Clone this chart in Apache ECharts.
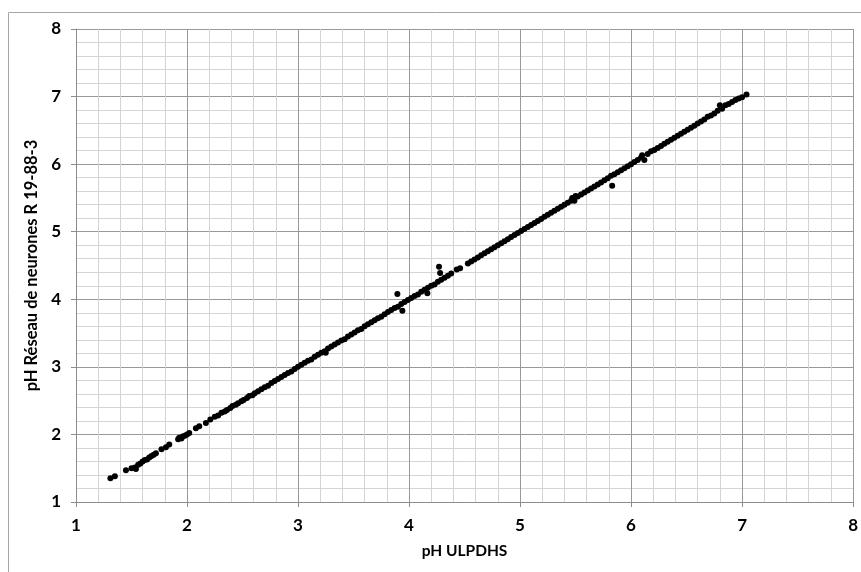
<!DOCTYPE html>
<html>
<head>
<meta charset="utf-8">
<script src="https://cdn.jsdelivr.net/npm/echarts@6/dist/echarts.min.js"></script>
<style>
html,body{margin:0;padding:0;background:#fff;}
#c{width:861px;height:572px;}
</style>
</head>
<body>
<div id="c"></div>
<script>
// pH ULPDHS (x) values
var phULPDHS = [
1.31,1.35,1.45,1.50,1.53,1.54,1.56,1.58,1.60,1.62,1.64,1.66,1.68,1.70,1.72,1.77,1.81,1.84,
1.92,1.93,1.95,1.96,1.98,2.00,2.02,2.08,2.11,2.17,2.21,2.25,2.28,2.31,2.34,2.36,2.39,2.41,
2.44,2.46,2.49,2.51,2.54,2.56,2.59,2.61,2.64,
2.67,2.70,2.73,2.76,2.79,2.82,2.85,2.88,2.91,2.94,2.97,3.00,3.03,3.06,3.09,3.12,3.15,3.18,
3.21,3.24,3.25,3.27,3.30,3.33,3.36,3.39,3.42,3.45,3.48,3.51,3.54,3.57,3.60,3.63,3.66,3.69,
3.72,3.75,3.78,3.81,3.84,3.87,3.90,3.93,3.96,3.99,4.02,4.05,4.08,4.11,4.14,4.17,4.20,4.23,
4.26,4.29,4.32,4.35,4.38,4.43,4.46,4.53,4.56,
4.59,4.62,4.65,4.68,4.71,4.74,4.77,4.80,4.83,4.86,4.89,4.92,4.95,4.98,5.01,5.04,5.07,5.10,
5.13,5.16,5.19,5.22,5.25,5.28,5.31,5.34,5.37,5.40,5.43,5.46,5.47,5.49,5.50,5.52,5.55,5.58,
5.61,5.64,5.67,5.70,5.73,5.76,5.79,5.82,5.85,5.88,5.91,5.94,5.97,6.00,6.03,6.06,6.09,6.10,
6.12,6.15,6.18,6.21,6.24,6.27,6.30,6.33,6.36,6.39,6.42,6.45,6.48,6.51,6.54,6.57,6.60,6.63,
6.66,6.69,6.72,6.75,6.78,6.80,6.82,6.85,6.88,6.91,6.94,6.97,7.00,7.04,
3.895,3.94,4.165,4.27,4.28,5.83
];
// pH Réseau de neurones R 19-88-3 (y) values
var phReseau = [
1.35,1.38,1.47,1.50,1.51,1.49,1.55,1.57,1.60,1.62,1.63,1.66,1.68,1.70,1.72,1.78,1.81,1.85,
1.93,1.95,1.94,1.97,1.98,2.00,2.02,2.09,2.12,2.17,2.22,2.26,2.28,2.32,2.34,2.36,2.39,2.42,
2.44,2.46,2.49,2.51,2.54,2.57,2.58,2.61,2.64,
2.67,2.70,2.72,2.76,2.79,2.82,2.85,2.88,2.91,2.93,2.97,3.00,3.03,3.06,3.09,3.11,3.15,3.18,
3.21,3.23,3.21,3.27,3.30,3.33,3.36,3.39,3.41,3.45,3.48,3.51,3.54,3.56,3.60,3.63,3.66,3.69,
3.72,3.74,3.78,3.81,3.84,3.87,3.89,3.93,3.96,3.99,4.02,4.05,4.07,4.11,4.14,4.17,4.20,4.22,
4.26,4.29,4.32,4.35,4.38,4.44,4.46,4.53,4.56,
4.59,4.62,4.65,4.68,4.71,4.74,4.77,4.80,4.83,4.86,4.89,4.92,4.95,4.98,5.01,5.04,5.07,5.10,
5.13,5.16,5.19,5.22,5.25,5.28,5.31,5.34,5.37,5.40,5.43,5.46,5.50,5.46,5.53,5.52,5.55,5.58,
5.61,5.64,5.67,5.70,5.73,5.76,5.79,5.83,5.85,5.88,5.91,5.94,5.97,6.00,6.03,6.06,6.10,6.13,
6.06,6.15,6.19,6.21,6.24,6.27,6.30,6.33,6.36,6.39,6.42,6.45,6.48,6.51,6.54,6.57,6.60,6.63,
6.66,6.70,6.72,6.75,6.79,6.87,6.82,6.87,6.89,6.92,6.95,6.97,6.99,7.03,
4.08,3.83,4.09,4.48,4.39,5.68
];
// Axis tick labels
var xTicks = [1,2,3,4,5,6,7,8];
var yTicks = [1,2,3,4,5,6,7,8];

var pts = phULPDHS.map(function(x,i){return [x, phReseau[i]];});
var chart = echarts.init(document.getElementById('c'));
var FF = 'Lato, "Open Sans", sans-serif';
var lab = {color:'#000', fontSize:17, fontWeight:'bold', fontFamily:FF};
chart.setOption({
  animation:false,
  backgroundColor:'#fff',
  graphic:[{type:'rect', shape:{x:8.5,y:12.5,width:870,height:580}, style:{fill:'none', stroke:'#a6a6a6', lineWidth:1}, silent:true}],
  grid:{left:76, top:29, right:6, bottom:70},
  xAxis:{
    type:'value', min:xTicks[0], max:xTicks[xTicks.length-1], interval:1,
    name:'pH ULPDHS', nameLocation:'middle', nameGap:41,
    nameTextStyle:{color:'#000', fontSize:15.5, fontWeight:'bold', fontFamily:FF},
    axisLine:{show:true, lineStyle:{color:'#8c8c8c'}},
    axisTick:{show:true, length:5, lineStyle:{color:'#8c8c8c'}},
    axisLabel:Object.assign({margin:15}, lab),
    splitLine:{show:true, lineStyle:{color:'#999', width:1}},
    minorTick:{show:false, splitNumber:5},
    minorSplitLine:{show:true, lineStyle:{color:'#d4d4d4', width:1}}
  },
  yAxis:{
    type:'value', min:yTicks[0], max:yTicks[yTicks.length-1], interval:1,
    name:'pH Réseau de neurones R 19-88-3', nameLocation:'middle', nameGap:34,
    nameTextStyle:{color:'#000', fontSize:16.5, fontWeight:'bold', fontFamily:FF},
    axisLine:{show:true, lineStyle:{color:'#8c8c8c'}},
    axisTick:{show:true, length:5, lineStyle:{color:'#8c8c8c'}},
    axisLabel:Object.assign({margin:15}, lab),
    splitLine:{show:true, lineStyle:{color:'#999', width:1}},
    minorTick:{show:false, splitNumber:5},
    minorSplitLine:{show:true, lineStyle:{color:'#d4d4d4', width:1}}
  },
  series:[{
    type:'scatter', data:pts, symbol:'circle', symbolSize:6,
    itemStyle:{color:'#000', opacity:1}
  }]
});
</script>
</body>
</html>
